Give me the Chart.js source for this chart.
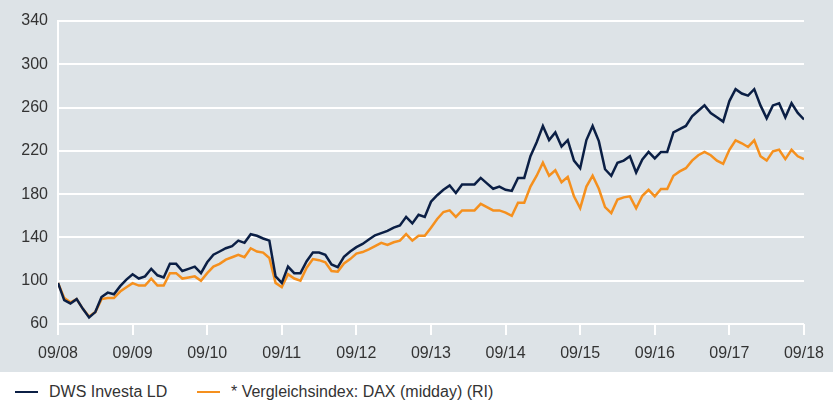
<!DOCTYPE html>
<html>
<head>
<meta charset="utf-8">
<script src="https://cdn.jsdelivr.net/npm/chart.js@4"></script>
<style>
    body { margin: 0; background: #fff; font-family: "Liberation Sans", Arial, sans-serif; }
    #wrap { position: relative; width: 833px; height: 372px; background: #dde3e7; }
    #legend { position: relative; width: 833px; height: 29px; color: #333; font-size: 16px; }
    .item { position: absolute; top: 10px; display: flex; align-items: center; height: 20px; }
    .swatch { width: 23px; height: 2px; margin-right: 11px; }
</style>
</head>
<body>
<div id="wrap"><canvas id="perfChart" width="833" height="372"></canvas></div>
<div id="legend">
    <div class="item" style="left:15px"><span class="swatch" style="background:#0b1f45"></span>DWS Investa LD</div>
    <div class="item" style="left:197px"><span class="swatch" style="background:#f5901e"></span>* Vergleichsindex: DAX (midday) (RI)</div>
</div>
<script>
const yearLabels = ['09/08', '09/09', '09/10', '09/11', '09/12', '09/13', '09/14', '09/15', '09/16', '09/17', '09/18'];

// monthly values, 09/2008 .. 09/2018 (indexed to 100)
const dwsInvesta = [
    98, 82, 79, 83, 74, 66, 71, 85, 89, 87.5, 95, 101,
    106, 102, 104, 111, 105, 103, 115.6, 115.6, 109, 111, 113, 107,
    117, 124, 127, 130, 132, 137, 135, 143, 141.5, 139, 137, 104,
    98, 113, 107, 107, 118, 126, 126, 124, 115, 112.5, 122, 127,
    131, 134, 138, 142, 144, 146, 149, 151, 159, 153, 161, 159,
    173, 179, 184, 188, 181, 189, 189, 189, 195, 190, 185, 187,
    184, 183, 195, 195, 215, 228, 243, 230, 237, 224, 230, 211,
    204, 230, 243, 229, 203, 197, 209, 211, 215, 200, 212, 219,
    213, 219, 219, 237, 240, 243, 252, 257, 262, 255, 251, 247,
    266, 277, 273, 271, 277, 262, 250, 262, 264, 251, 264, 255,
    249
];

const daxIndex = [
    98, 84, 80, 83, 74, 67, 71, 83, 84, 84, 90, 94,
    97.7, 95.5, 95.5, 102, 95.5, 95.5, 107, 107, 102, 103, 104, 100,
    107, 113, 115.6, 119.5, 121.7, 124, 121.7, 130, 127, 126, 121, 98,
    94, 106, 102, 100, 112, 120, 119, 117, 109, 108.4, 116, 120,
    125, 126.5, 129, 132, 135, 133, 135.5, 137, 143, 137, 141.5, 141.5,
    149, 157, 163.5, 165, 159, 165, 165, 165, 171, 168, 165, 165,
    163, 160, 172, 172, 187, 197, 209, 197, 202, 191, 196, 178,
    167, 187, 197, 185, 168, 162.5, 175, 177, 178, 167, 178.5, 184,
    178, 184.7, 184.7, 197, 201, 204, 211, 216, 219, 216, 211, 208,
    221, 229.7, 227, 223.6, 229.7, 215, 211, 219.5, 221, 212.4, 221, 215,
    212.4
];

const tickFont = { family: '"Liberation Sans", Arial, sans-serif', size: 16 };

new Chart(document.getElementById('perfChart'), {
    type: 'line',
    data: {
        datasets: [{
            label: 'DWS Investa LD',
            data: dwsInvesta.map((v, i) => ({ x: i, y: v })),
            borderColor: '#0b1f45',
            borderWidth: 2.5,
            pointRadius: 0,
            tension: 0
        }, {
            label: '* Vergleichsindex: DAX (midday) (RI)',
            data: daxIndex.map((v, i) => ({ x: i, y: v })),
            borderColor: '#f5901e',
            borderWidth: 2.5,
            pointRadius: 0,
            tension: 0
        }]
    },
    options: {
        responsive: false,
        animation: false,
        layout: { padding: { top: 21, right: 23, left: 0, bottom: 0 } },
        plugins: {
            legend: { display: false },
            tooltip: { enabled: false }
        },
        scales: {
            x: {
                type: 'linear',
                min: 0,
                max: 120,
                afterFit: s => { s.height = 48; },
                ticks: {
                    stepSize: 12,
                    autoSkip: false,
                    maxRotation: 0,
                    color: '#333',
                    font: tickFont,
                    padding: 9,
                    callback: v => yearLabels[v / 12]
                },
                grid: {
                    drawOnChartArea: false,
                    drawTicks: true,
                    tickLength: 11,
                    color: '#ffffff',
                    lineWidth: 2
                },
                border: { display: false }
            },
            y: {
                min: 60,
                max: 340,
                afterFit: s => { s.width = 58; },
                ticks: {
                    stepSize: 40,
                    color: '#333',
                    font: tickFont,
                    padding: 10
                },
                grid: {
                    color: '#ffffff',
                    lineWidth: 2,
                    drawTicks: false
                },
                border: { display: true, color: '#ffffff', width: 2 }
            }
        }
    }
});
</script>
</body>
</html>
